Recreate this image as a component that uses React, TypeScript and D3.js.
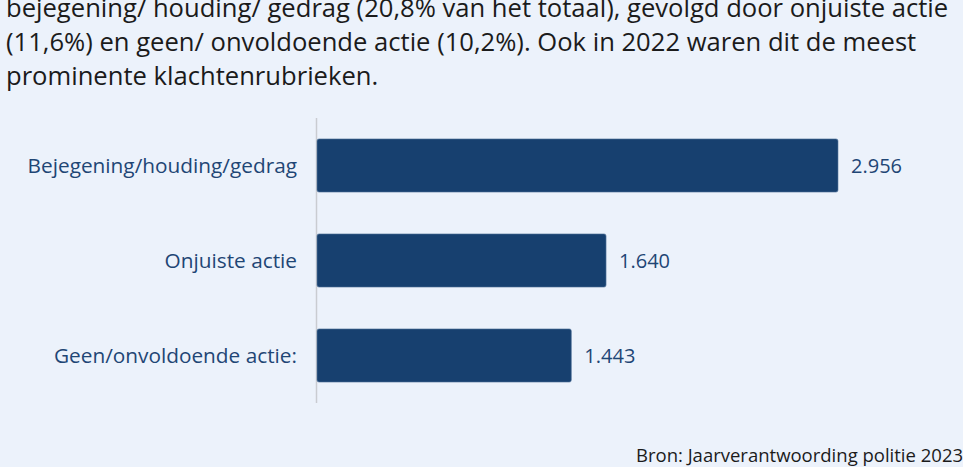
import React, { useEffect, useRef } from 'react'
import * as d3 from 'd3'

// Data
const categories = ['Bejegening/houding/gedrag', 'Onjuiste actie', 'Geen/onvoldoende actie:']
const values = [2956, 1640, 1443]
const introLines = [
  'bejegening/ houding/ gedrag (20,8% van het totaal), gevolgd door onjuiste actie',
  '(11,6%) en geen/ onvoldoende actie (10,2%). Ook in 2022 waren dit de meest',
  'prominente klachtenrubrieken.',
]
const sourceText = 'Bron: Jaarverantwoording politie 2023'

const nl = d3.formatLocale({ decimal: ',', thousands: '.', grouping: [3], currency: ['€', ''] })
const fmt = nl.format(',d')

export default function App() {
  const ref = useRef<SVGSVGElement | null>(null)

  useEffect(() => {
    const w = 963
    const h = 467
    const svg = d3.select(ref.current)
    svg.selectAll('*').remove()

    svg.append('rect').attr('width', w).attr('height', h).attr('fill', '#ecf2fb')

    // intro paragraph
    svg
      .append('g')
      .selectAll('text')
      .data(introLines)
      .enter()
      .append('text')
      .attr('x', 6)
      .attr('y', (d, i) => 17 + i * 34)
      .attr('font-family', 'Open Sans')
      .attr('font-size', 25.6)
      .attr('fill', '#1b1b1b')
      .text(d => d)

    const x = d3.scaleLinear().domain([0, d3.max(values) as number]).range([317, 838])
    const y = d3.scaleBand().domain(categories).range([118, 403]).paddingInner(0.44).paddingOuter(0.22)

    // axis line
    svg
      .append('line')
      .attr('x1', 316.5)
      .attr('x2', 316.5)
      .attr('y1', 118)
      .attr('y2', 403)
      .attr('stroke', '#c9ccd1')
      .attr('stroke-width', 1.5)

    const rows = svg
      .selectAll('g.row')
      .data(categories)
      .enter()
      .append('g')
      .attr('class', 'row')

    rows
      .append('rect')
      .attr('x', x(0))
      .attr('y', d => y(d) as number)
      .attr('width', (d, i) => x(values[i]) - x(0))
      .attr('height', y.bandwidth())
      .attr('rx', 2)
      .attr('fill', '#17406f')
      .attr('stroke', '#5a7aa0')
      .attr('stroke-width', 0.6)

    rows
      .append('text')
      .attr('x', 297)
      .attr('y', d => (y(d) as number) + y.bandwidth() / 2)
      .attr('dy', '0.35em')
      .attr('text-anchor', 'end')
      .attr('font-family', 'Open Sans')
      .attr('font-size', 20.8)
      .attr('fill', '#1f4675')
      .text(d => d)

    rows
      .append('text')
      .attr('x', (d, i) => x(values[i]) + 13)
      .attr('y', d => (y(d) as number) + y.bandwidth() / 2)
      .attr('dy', '0.35em')
      .attr('font-family', 'Open Sans')
      .attr('font-size', 20)
      .attr('fill', '#1f4675')
      .text((d, i) => fmt(values[i]))

    svg
      .append('text')
      .attr('x', 636)
      .attr('y', 462)
      .attr('font-family', 'Open Sans')
      .attr('font-size', 18.5)
      .attr('fill', '#1b1b1b')
      .text(sourceText)
  }, [])

  return (
    <div style={{ position: 'fixed', left: 0, top: 0 }}>
      <svg ref={ref} width={963} height={467} style={{ display: 'block' }} />
    </div>
  )
}
